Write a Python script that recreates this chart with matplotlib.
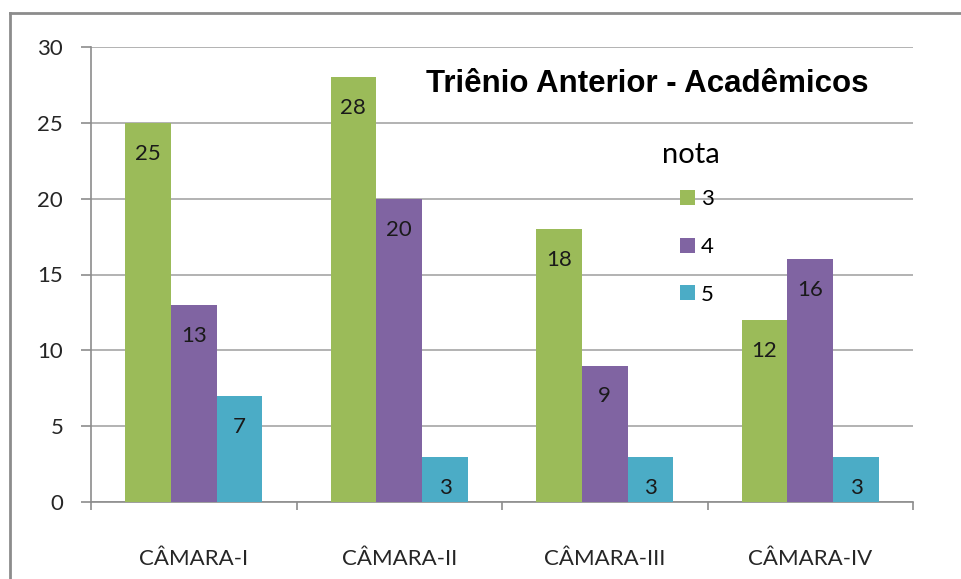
import matplotlib.pyplot as plt
from matplotlib.lines import Line2D
import numpy as np

camaras = ["CÂMARA-I", "CÂMARA-II", "CÂMARA-III", "CÂMARA-IV"]
notas = ["3", "4", "5"]
nota_3 = [25, 28, 18, 12]
nota_4 = [13, 20, 9, 16]
nota_5 = [7, 3, 3, 3]
cores = ["#9BBB59", "#8064A2", "#4BACC6"]

plt.rcParams["font.family"] = ["Lato", "DejaVu Sans"]

fig = plt.figure(figsize=(9.61, 5.79), dpi=100)
ax = fig.add_axes([91 / 961, 1 - 502 / 579, 822 / 961, 455 / 579])

x = np.arange(len(camaras))
largura = 0.223
series = [nota_3, nota_4, nota_5]

for i, (vals, cor, nota) in enumerate(zip(series, cores, notas)):
    pos = x + (i - 1) * largura
    ax.bar(pos, vals, width=largura, color=cor, label=nota, zorder=3)
    for px_, v in zip(pos, vals):
        ax.annotate(str(v), (px_, v), xytext=(0, -31), textcoords="offset pixels",
                    ha="center", va="center", fontsize=16, color="#1a1a1a", zorder=4)

ax.set_xlim(-0.5, len(camaras) - 0.5)
ax.set_ylim(0, 30)
ax.set_yticks(range(0, 31, 5))
ax.yaxis.grid(True, color="#a6a6a6", linewidth=1.2, zorder=0)
ax.set_axisbelow(True)

ax.set_xticks(x)
ax.set_xticklabels(camaras, fontsize=16, color="#262626")
ax.set_xticks(np.arange(-0.5, len(camaras)), minor=True)
ax.tick_params(axis="x", which="major", length=0, pad=34)
ax.tick_params(axis="x", which="minor", length=6, color="#8c8c8c", width=1.2)
ax.tick_params(axis="y", length=7, color="#8c8c8c", width=1.2, labelsize=16,
               labelcolor="#262626", pad=13)

for lado in ["top", "right"]:
    ax.spines[lado].set_visible(False)
for lado in ["left", "bottom"]:
    ax.spines[lado].set_color("#8c8c8c")
    ax.spines[lado].set_linewidth(1.2)

fig.text(647 / 961, 1 - 84 / 579, "Triênio Anterior - Acadêmicos",
         ha="center", va="center", fontsize=22.5, fontweight="bold",
         family=["Liberation Sans", "DejaVu Sans"], color="black")
fig.text(691 / 961, 1 - 155 / 579, "nota", ha="center", va="center", fontsize=21,
         color="black")

leg = ax.legend(loc="upper left", bbox_to_anchor=(669 / 961, 1 - 178 / 579),
                bbox_transform=fig.transFigure, frameon=False, fontsize=16,
                handlelength=0.65, handleheight=0.65, handletextpad=0.3,
                labelspacing=1.25, borderpad=0)

# moldura da figura (so topo e esquerda aparecem)
fig.add_artist(Line2D([9.5 / 961, 9.5 / 961], [0, 1 - 12.5 / 579], transform=fig.transFigure,
                      color="#8c8c8c", linewidth=2))
fig.add_artist(Line2D([9.5 / 961, 1], [1 - 12.5 / 579, 1 - 12.5 / 579], transform=fig.transFigure,
                      color="#8c8c8c", linewidth=2))

fig.savefig("out.png", dpi=100)
